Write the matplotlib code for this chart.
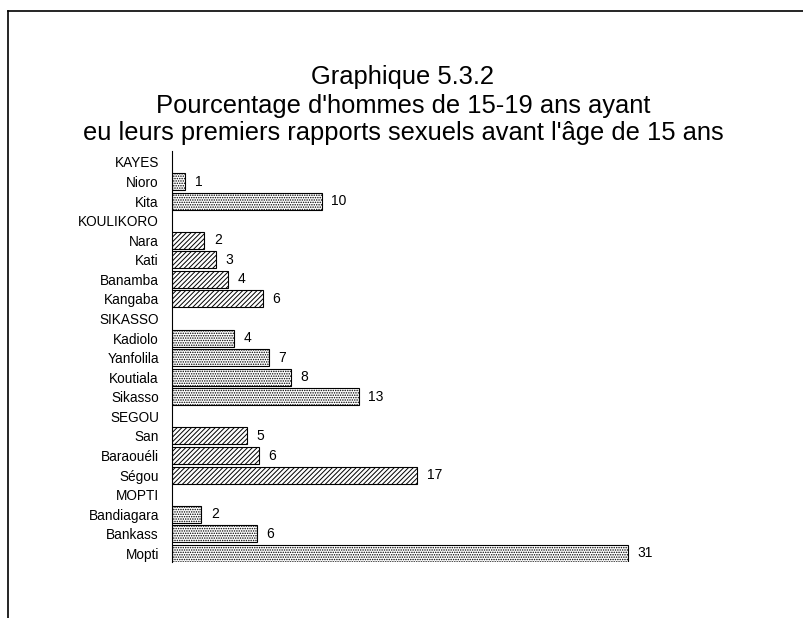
import matplotlib
matplotlib.use("Agg")
import matplotlib.pyplot as plt
from matplotlib.lines import Line2D

plt.rcParams['font.family'] = ['Liberation Sans', 'DejaVu Sans']
plt.rcParams['hatch.linewidth'] = 0.7

categories = ["KAYES", "Nioro", "Kita",
              "KOULIKORO", "Nara", "Kati", "Banamba", "Kangaba",
              "SIKASSO", "Kadiolo", "Yanfolila", "Koutiala", "Sikasso",
              "SEGOU", "San", "Baraouéli", "Ségou",
              "MOPTI", "Bandiagara", "Bankass", "Mopti"]
# None = region header row (no bar)
values = [None, 0.9, 10.2,
          None, 2.2, 3.0, 3.8, 6.2,
          None, 4.2, 6.6, 8.1, 12.7,
          None, 5.1, 5.9, 16.7,
          None, 2.0, 5.8, 31.0]
region_of_row = ["KAYES"] * 3 + ["KOULIKORO"] * 5 + ["SIKASSO"] * 5 + ["SEGOU"] * 4 + ["MOPTI"] * 4
hatch_by_region = {"KAYES": ".......", "KOULIKORO": "///////", "SIKASSO": ".......",
                   "SEGOU": "///////", "MOPTI": "......."}

title_lines = ["Graphique 5.3.2",
               "Pourcentage d'hommes de 15-19 ans ayant",
               "eu leurs premiers rapports sexuels avant l'âge de 15 ans"]

W, H = 804, 618
fig = plt.figure(figsize=(W / 100, H / 100), dpi=100)

# frame lines (top and left) of the scanned page
fig.add_artist(Line2D([8 / W, 1.0], [1 - 11 / H, 1 - 11 / H], color="black", lw=1.2, transform=fig.transFigure))
fig.add_artist(Line2D([8 / W, 8 / W], [1 - 11 / H, 0.0], color="black", lw=1.2, transform=fig.transFigure))

ax_left = 172 / W
ax_top = 151 / H
ax_bottom = 562 / H
ax_right = 700 / W
ax = fig.add_axes([ax_left, 1 - ax_bottom, ax_right - ax_left, ax_bottom - ax_top])

rows = list(range(len(categories)))
for r, v, reg in zip(rows, values, region_of_row):
    if v is None:
        continue
    ax.barh(r, v, height=0.87, color="white", edgecolor="black", linewidth=0.8,
            hatch=hatch_by_region[reg])
    ax.annotate(f"{v:.0f}", xy=(v, r), xytext=(6.8, 0), textcoords="offset points",
                ha="left", va="center", fontsize=10)

ax.set_xlim(0, (700 - 172) / 14.7)
ax.set_ylim(20.44, -0.56)
ax.set_yticks(rows)
ax.set_yticklabels(categories, fontsize=9.8)
ax.tick_params(axis="y", length=0, pad=9.4)
ax.set_xticks([])
for s in ["top", "right", "bottom"]:
    ax.spines[s].set_visible(False)
ax.spines["left"].set_linewidth(0.8)

ys = [77, 106, 133]
for t, y in zip(title_lines, ys):
    fig.text(403 / W, 1 - y / H, t, ha="center", va="center", fontsize=18.4)

fig.savefig("out.png", dpi=100)
